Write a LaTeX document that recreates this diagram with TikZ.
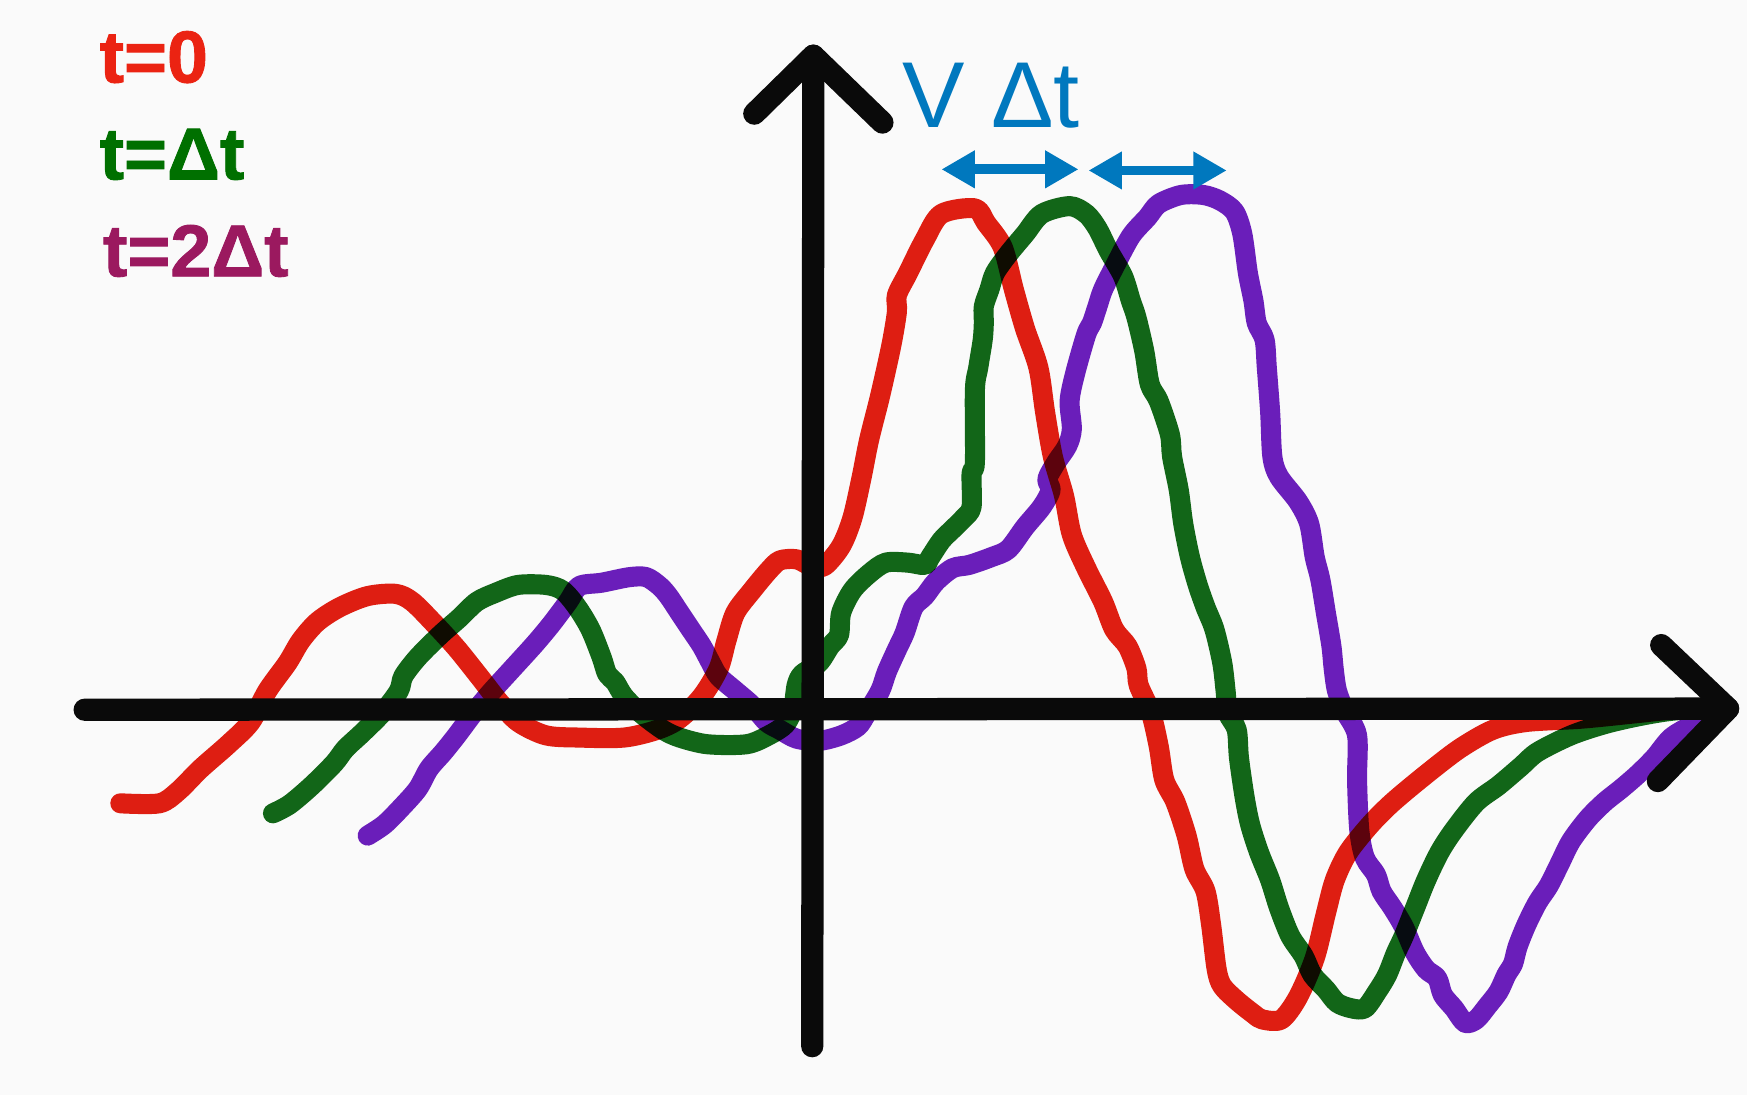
\documentclass[tikz,border=0pt]{standalone}
\usepackage{fontspec}
\setmainfont{Liberation Sans}
\newfontfamily\labfont[FakeBold=1.2]{Liberation Sans Bold}
\usetikzlibrary{arrows.meta}
\definecolor{cred}{RGB}{222,30,18}
\definecolor{cgreen}{RGB}{18,102,24}
\definecolor{cpurple}{RGB}{106,30,186}
\definecolor{lred}{RGB}{235,35,18}
\definecolor{lgreen}{RGB}{0,112,0}
\definecolor{lmag}{RGB}{155,25,95}
\definecolor{cblue}{RGB}{0,120,190}
\definecolor{bg}{RGB}{250,250,250}
\tikzset{
  wave/.style={line width=9pt, line cap=round, line join=round, blend mode=multiply},
  axis/.style={line width=10pt, line cap=round, line join=round, black!96},
  lab/.style={anchor=base west, inner sep=0pt, font=\fontsize{33}{33}\labfont},
  shiftarrow/.style={cblue, line width=4.4pt, {Triangle[length=15pt,width=16pt]}-{Triangle[length=15pt,width=16pt]}}
}
\begin{document}
\begin{tikzpicture}[x=0.5pt,y=-0.5pt]
\fill[bg] (0,0) rectangle (1568,983);
\useasboundingbox (0,0) rectangle (1568,983);
\begin{scope}[transparency group]
% red t=0
\draw[wave, cred] plot[smooth, tension=0.5] coordinates {
(108,721) (143,721) (160,710) (180,690) (205,668) (225,648) (240,620) (258,595) (270,575) (285,558) (305,545) (330,535) (355,533) (370,540) (390,560) (410,582) (430,607) (448,630) (465,648) (490,660) (520,662) (560,662) (590,655) (610,645) (630,625) (645,600) (652,575) (660,550) (675,530) (690,512) (700,503) (715,502) (728,508) (740,508) (755,490) (765,465) (773,430) (780,395) (790,355) (800,310) (805,280) (805,265) (815,245) (830,215) (845,192) (875,187) (885,200) (900,222) (910,260) (920,295) (932,330) (938,370) (945,410) (955,445) (962,480) (975,510) (990,540) (1000,565) (1012,580) (1020,600) (1022,615) (1033,640) (1040,670) (1045,700) (1055,720) (1065,750) (1072,780) (1082,800) (1087,830) (1092,870) (1097,885) (1110,898) (1125,910) (1133,915) (1150,915) (1165,895) (1180,860) (1190,820) (1198,790) (1210,765) (1230,740) (1250,720) (1280,695) (1310,672) (1340,655) (1370,648) (1420,645) (1470,640) (1500,637) (1545,635)};
% green t=dt
\draw[wave, cgreen] plot[smooth, tension=0.5] coordinates {
(245,730) (260,722) (280,705) (300,685) (310,672) (325,658) (343,640) (358,620) (362,607) (375,590) (395,570) (412,555) (428,540) (445,532) (465,525) (490,525) (505,530) (518,545) (530,565) (540,590) (545,605) (552,612) (560,625) (575,640) (595,655) (610,662) (635,668) (670,668) (690,660) (705,650) (712,635) (715,615) (720,605) (735,595) (745,580) (753,570) (755,550) (765,530) (780,515) (795,505) (815,505) (830,507) (835,500) (845,485) (855,475) (865,465) (872,455) (872,425) (875,415) (875,350) (878,330) (882,305) (883,290) (883,275) (888,260) (893,245) (905,228) (920,210) (935,192) (960,185) (975,192) (985,205) (995,225) (1008,248) (1015,270) (1020,285) (1027,315) (1032,345) (1040,360) (1050,390) (1052,410) (1058,440) (1062,470) (1068,500) (1075,525) (1082,545) (1090,565) (1097,595) (1100,620) (1102,640) (1110,655) (1112,680) (1117,715) (1122,740) (1130,765) (1140,790) (1148,815) (1158,840) (1170,858) (1178,875) (1190,888) (1200,900) (1213,905) (1225,905) (1236,890) (1245,875) (1253,855) (1260,840) (1270,815) (1280,790) (1292,765) (1305,745) (1325,720) (1345,705) (1365,688) (1380,675) (1410,660) (1440,650) (1470,643) (1500,638) (1540,635)};
% purple t=2dt
\draw[wave, cpurple] plot[smooth, tension=0.5] coordinates {
(330,750) (345,740) (360,725) (375,708) (385,690) (398,675) (410,660) (425,640) (440,622) (460,600) (480,578) (495,560) (510,540) (520,526) (540,523) (565,518) (580,518) (592,526) (600,535) (610,550) (620,565) (630,580) (638,595) (645,607) (660,620) (675,633) (688,648) (700,655) (715,663) (735,665) (755,660) (770,652) (778,640) (790,620) (796,603) (805,583) (812,568) (820,545) (830,535) (840,522) (855,510) (870,507) (890,500) (905,493) (920,473) (935,455) (943,440) (940,430) (948,415) (958,400) (962,385) (960,360) (965,335) (975,300) (980,290) (985,275) (990,260) (1000,240) (1015,212) (1030,195) (1040,183) (1060,175) (1080,175) (1095,180) (1108,190) (1115,210) (1120,245) (1125,270) (1128,290) (1135,305) (1137,330) (1140,370) (1142,410) (1148,428) (1165,450) (1175,470) (1180,500) (1185,520) (1190,550) (1195,580) (1197,600) (1200,620) (1207,638) (1218,660) (1218,700) (1220,745) (1225,770) (1235,785) (1240,800) (1250,815) (1260,832) (1270,855) (1280,870) (1290,878) (1295,893) (1305,905) (1315,918) (1325,915) (1335,903) (1345,890) (1352,875) (1358,865) (1362,850) (1370,830) (1380,810) (1390,795) (1400,775) (1410,755) (1425,735) (1440,720) (1455,708) (1470,695) (1485,680) (1500,662) (1520,650) (1540,640) (1550,635)};
\end{scope}
% axes
\coordinate (xs) at (76,637);
\coordinate (xe) at (1551,636);
\coordinate (ys) at (729,939);
\coordinate (ye) at (730,50);
\draw[axis] (xs) -- (xe);
\draw[axis] (1491,579) -- (xe) -- (1488,701);
\draw[axis] (ys) -- (ye);
\draw[axis] (677,102) -- (ye) -- (792,110);
% labels
\node[lab, lred] (t0) at (89,74) {t=0};
\node[lab, lgreen] (t1) at (89,161) {t=Δt};
\node[lab, lmag] (t2) at (92,248) {t=2Δt};
\node[anchor=base west, inner sep=0pt, cblue, font=\fontsize{42}{42}\selectfont] (vdt) at (810,114) {V Δt};
% shift arrows
\coordinate (a1) at (845,152);
\coordinate (b1) at (968,152);
\coordinate (a2) at (977,153);
\coordinate (b2) at (1101,153);
\draw[shiftarrow] (a1) -- (b1);
\draw[shiftarrow] (a2) -- (b2);
\end{tikzpicture}
\end{document}
